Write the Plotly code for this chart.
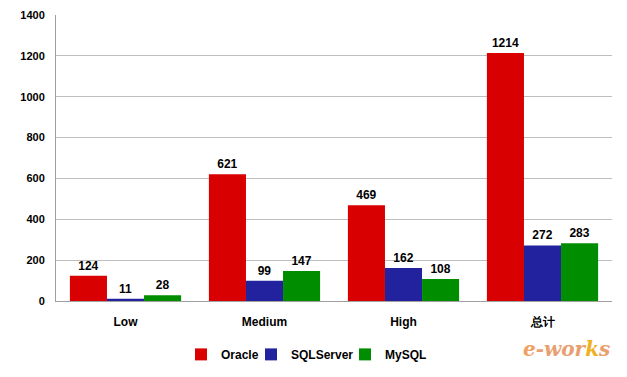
import plotly.graph_objects as go

categories = ["Low", "Medium", "High", "总计"]
series_names = ["Oracle", "SQLServer", "MySQL"]
oracle = [124, 621, 469, 1214]
sqlserver = [11, 99, 162, 272]
mysql = [28, 147, 108, 283]
colors = ["#D80000", "#22229E", "#008E00"]
y_ticks = [0, 200, 400, 600, 800, 1000, 1200, 1400]

font_family = "Liberation Sans, Arial, sans-serif"
legend_ids = ["legend", "legend2", "legend3"]
legend_x = [0.2248, 0.3507, 0.5198]

fig = go.Figure()
for name, vals, col, lid in zip(series_names, [oracle, sqlserver, mysql], colors, legend_ids):
    fig.add_trace(go.Bar(
        x=categories, y=vals, name="<b>%s</b>" % name, legend=lid,
        marker=dict(color=col, line=dict(width=0)),
        text=[str(v) for v in vals], textposition="outside",
        textfont=dict(family=font_family, size=12, color="black"),
        texttemplate="<b>%{text}</b>", cliponaxis=False,
    ))

leg_common = dict(orientation="h", xanchor="left", y=-0.136, yanchor="top",
                  font=dict(size=12, family=font_family), itemwidth=30,
                  bgcolor="rgba(0,0,0,0)")
fig.update_layout(
    width=619, height=369,
    margin=dict(l=48, r=15, t=7, b=76, autoexpand=False),
    paper_bgcolor="white", plot_bgcolor="white",
    barmode="group", bargap=0.2, bargroupgap=0,
    font=dict(family=font_family, size=12, color="black"),
    showlegend=True,
    legend=dict(x=legend_x[0], **leg_common),
    legend2=dict(x=legend_x[1], **leg_common),
    legend3=dict(x=legend_x[2], **leg_common),
    xaxis=dict(showline=True, linecolor="#A0A0A0", linewidth=1, ticks="",
               tickfont=dict(size=12), ticklabelstandoff=10,
               tickvals=categories, ticktext=["<b>%s</b>" % c for c in categories]),
    yaxis=dict(range=[0, 1400], tickvals=y_ticks,
               ticktext=["<b>%d</b>" % v for v in y_ticks],
               showgrid=True, gridcolor="#BEBEBE", gridwidth=1,
               showline=True, linecolor="#A0A0A0", linewidth=1,
               zeroline=False, ticks="", tickfont=dict(size=11), ticklabelstandoff=8),
)
fig.add_annotation(xref="paper", yref="paper", x=1.0, y=-0.12, xanchor="right", yanchor="top",
                   text="<i><b><span style='color:#F0A060'>e</span><span style='color:#E8A070'>-wor</span><span style='color:#F0B020'>k</span><span style='color:#E8A070'>s</span></b></i>",
                   showarrow=False, font=dict(size=20, family="DejaVu Serif"))
fig.write_html("out.html")
